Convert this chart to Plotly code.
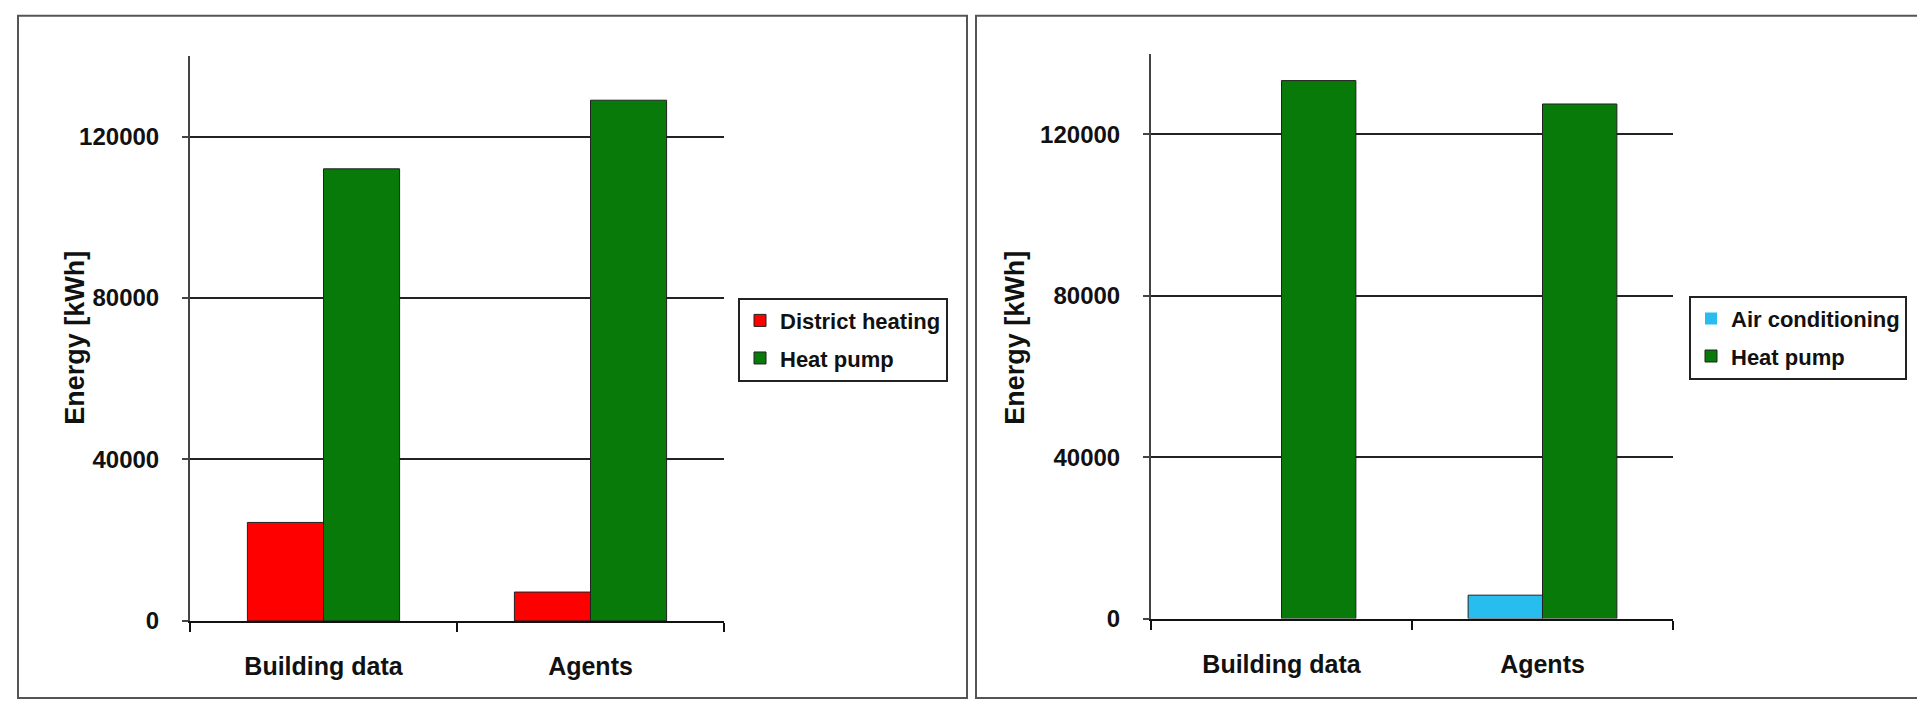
import plotly.graph_objects as go

W, H = 1925, 707

categories = ["Building data", "Agents"]

# Left chart
left_district_heating = [24400, 7150]
left_heat_pump = [112000, 129000]

# Right chart
right_air_conditioning = [0, 5800]
right_heat_pump = [133300, 127500]

y_tickvals = [0, 40000, 80000, 120000]
y_ticktext = ["0", "40000", "80000", "120000"]
y_title = "Energy [kWh]"

RED = "#FF0000"
GREEN = "#077A0A"
CYAN = "#27BEEF"
FONT = "Liberation Sans"


def px_x(x):
    return x / W


def px_y(y):
    return 1 - y / H


def outline(values):
    # no outline for zero-height bars
    return dict(color="#222", width=[1 if v else 0 for v in values])


fig = go.Figure()

fig.add_trace(go.Bar(x=categories, y=left_district_heating, name="District heating",
                     marker=dict(color=RED, line=outline(left_district_heating)),
                     xaxis="x", yaxis="y", legend="legend", legendgroup="a"))
fig.add_trace(go.Bar(x=categories, y=left_heat_pump, name="Heat pump",
                     marker=dict(color=GREEN, line=outline(left_heat_pump)),
                     xaxis="x", yaxis="y", legend="legend", legendgroup="b"))
fig.add_trace(go.Bar(x=categories, y=right_air_conditioning, name="Air conditioning",
                     marker=dict(color=CYAN, line=outline(right_air_conditioning)),
                     xaxis="x2", yaxis="y2", legend="legend2", legendgroup="c"))
fig.add_trace(go.Bar(x=categories, y=right_heat_pump, name="Heat pump",
                     marker=dict(color=GREEN, line=outline(right_heat_pump)),
                     xaxis="x2", yaxis="y2", legend="legend2", legendgroup="d"))

tickfont = dict(family=FONT, size=24, color="#111", weight="bold")
xtickfont = dict(family=FONT, size=25, color="#111", weight="bold")

xaxis_common = dict(
    type="category", range=[-0.5, 1.5], showgrid=False, showline=True,
    linecolor="#111", linewidth=2, ticks="outside", tickson="boundaries",
    ticklen=9, tickcolor="#111", tickwidth=2, tickfont=xtickfont,
    ticklabelstandoff=22, zeroline=False, fixedrange=True,
)
yaxis_common = dict(
    range=[0, 140000], tickvals=y_tickvals, ticktext=y_ticktext,
    showgrid=True, gridcolor="#222", gridwidth=2, showline=True,
    linecolor="#444", linewidth=2, ticks="outside", ticklen=6,
    tickcolor="#444", tickwidth=2, tickfont=tickfont, ticklabelstandoff=18,
    zeroline=False, fixedrange=True,
)

legend_common = dict(
    xanchor="left", yanchor="top", bordercolor="#222", borderwidth=2,
    bgcolor="white", traceorder="grouped", tracegroupgap=6,
    font=dict(family=FONT, size=22, color="#111", weight="bold"),
    itemclick=False, itemdoubleclick=False,
)

fig.update_layout(
    width=W, height=H,
    margin=dict(l=0, r=0, t=0, b=0),
    paper_bgcolor="white", plot_bgcolor="white",
    barmode="group", bargap=0.43, bargroupgap=0,
    font=dict(family=FONT, color="#111"),
    xaxis=dict(domain=[px_x(182), px_x(716)], anchor="y", **xaxis_common),
    yaxis=dict(domain=[px_y(624.4), px_y(48.7)], anchor="x", **yaxis_common),
    xaxis2=dict(domain=[px_x(1143), px_x(1665)], anchor="y2", **xaxis_common),
    yaxis2=dict(domain=[px_y(622), px_y(46.4)], anchor="x2", **yaxis_common),
    legend=dict(x=px_x(730), y=px_y(295), **legend_common),
    legend2=dict(x=px_x(1681), y=px_y(293), **legend_common),
    showlegend=True,
)

# y-axis titles
for xc, yc in [(50, 336), (1007, 336)]:
    fig.add_annotation(x=px_x(xc), y=px_y(yc), xref="paper", yref="paper",
                       text=y_title, textangle=-90, showarrow=False,
                       font=dict(family=FONT, size=27, color="#111", weight="bold"))

# panel borders
for x0, x1 in [(10, 959), (968, 1920)]:
    fig.add_shape(type="rect", xref="paper", yref="paper",
                  x0=px_x(x0), x1=px_x(x1), y0=px_y(703), y1=px_y(8),
                  line=dict(color="#555", width=2), fillcolor="rgba(0,0,0,0)",
                  layer="below")

fig.write_html("out.html")
